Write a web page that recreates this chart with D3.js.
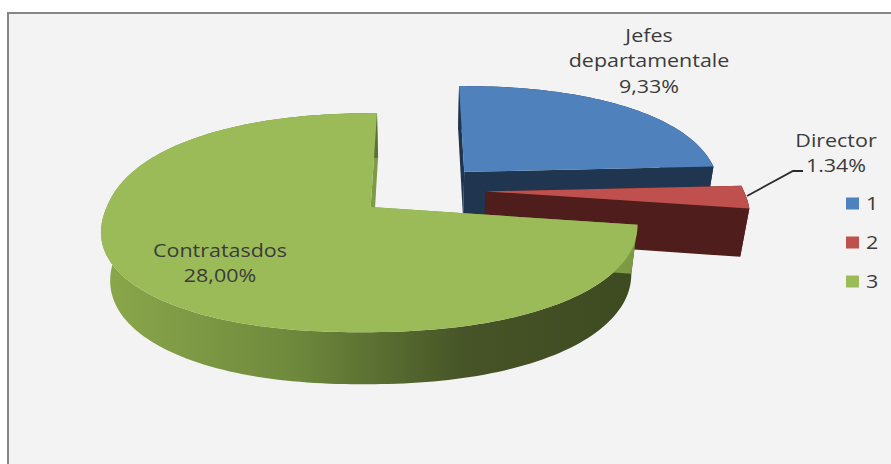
<!DOCTYPE html>
<html>
<head>
<meta charset="utf-8">
<script src="https://cdnjs.cloudflare.com/ajax/libs/d3/7.8.5/d3.min.js"></script>
<style>
html,body{margin:0;padding:0;background:#fff;}
svg{display:block;}
text{font-family:"Open Sans",sans-serif;fill:#3b3b3b;}
</style>
</head>
<body>
<svg id="chart" width="891" height="464"></svg>
<script>
// Staff distribution shown as an exploded 3D pie
const categories = ["1", "2", "3"];
const values = [9.33, 1.34, 28.00];
const labelLines = [["Jefes", "departamentale", "9,33%"], ["Director", "1.34%"], ["Contratasdos", "28,00%"]];
const topColors = ["#4f81bd", "#c0504d", "#9bbb59"];
const wallColors = ["#1f3550", "#4f1e1c", "#7d9a45"];

const width = 891, height = 464;
const svg = d3.select("#chart");

// Plot area with its grey frame on the top and left
svg.append("rect").attr("x", 8).attr("y", 13).attr("width", width).attr("height", height)
  .attr("fill", "#f3f3f3").attr("stroke", "#868686").attr("stroke-width", 2);

// Perspective projection of the pie plane
const view = {cx: 421, cy: 190, rx: 258, ry: 102.5, persp: 0.14, depth: 49, depthPersp: 0.028, explode: 0.25, round: 2.2};
const project = (x, y, z) => {
  const w = 1 - view.persp * y + view.depthPersp * z;
  return [view.cx + view.rx * x / w, view.cy + (view.ry * y + view.depth * z) / w];
};
// The outline is slightly fuller than a true ellipse
const outline = a => {
  const sx = Math.sin(a), cy = Math.cos(a);
  const f = Math.pow(Math.pow(Math.abs(sx), view.round) + Math.pow(Math.abs(cy), view.round), -1 / view.round);
  return [sx * f, -cy * f];
};

const pie = d3.pie().sort(null).value(d => d);
const slices = pie(values);
const line = d3.line();

const defs = svg.append("defs");
const rimGradient = defs.append("linearGradient").attr("id", "rim-3")
  .attr("gradientUnits", "userSpaceOnUse").attr("x1", 105).attr("x2", 635).attr("y1", 0).attr("y2", 0);
[[0, "#8aa74b"], [0.35, "#6f8a3c"], [0.68, "#465427"], [1, "#3e4a20"]].forEach(([o, c]) =>
  rimGradient.append("stop").attr("offset", o).attr("stop-color", c));

slices.forEach((s, i) => {
  const mid = (s.startAngle + s.endAngle) / 2;
  const ox = view.explode * Math.sin(mid), oy = -view.explode * Math.cos(mid);
  const steps = Math.max(6, Math.round((s.endAngle - s.startAngle) * 40));
  const angles = d3.range(steps + 1).map(k => s.startAngle + (s.endAngle - s.startAngle) * k / steps);
  const rimAt = z => angles.map(a => {
    const [ux, uy] = outline(a);
    return project(ox + ux, oy + uy, z);
  });
  const apexAt = z => project(ox, oy, z);
  const g = svg.append("g").attr("class", "slice-" + categories[i]);
  const radialWall = k => g.append("path")
    .attr("d", line([apexAt(0), rimAt(0)[k], rimAt(1)[k], apexAt(1)]) + "Z").attr("fill", wallColors[i]);

  // Walls first, so the top face lies over them
  radialWall(angles.length - 1);
  g.append("path")
    .attr("d", line([...rimAt(0), ...rimAt(1).reverse()]) + "Z")
    .attr("fill", i === 2 ? "url(#rim-3)" : wallColors[i]);
  radialWall(0);

  g.append("path")
    .attr("d", line([apexAt(0), ...rimAt(0)]) + "Z").attr("fill", topColors[i]);
});

// Text is set a little wider than the face's natural proportions
const textStretch = 1.16;

// Data labels
const labelAnchors = [
  {x: 649, y: 42, step: 25.5},
  {x: 836, y: 147, step: 25},
  {x: 220, y: 257, step: 25}
];
labelLines.forEach((rows, i) => {
  const t = svg.append("text").attr("text-anchor", "middle").attr("font-size", 18.5)
    .attr("transform", `translate(${labelAnchors[i].x},0) scale(${textStretch},1)`);
  rows.forEach((r, j) => t.append("tspan").attr("x", 0)
    .attr("y", labelAnchors[i].y + j * labelAnchors[i].step).text(r));
});

// Leader line for the small slice
svg.append("path").attr("d", line([[747, 196], [793, 171], [803, 171]]))
  .attr("fill", "none").attr("stroke", "#2b2b2b").attr("stroke-width", 1.8);

// Legend
const legendY = d3.scalePoint().domain(categories).range([203.5, 281.5]);
const legend = svg.append("g").selectAll("g").data(categories).join("g")
  .attr("transform", d => `translate(846,${legendY(d)})`);
legend.append("rect").attr("y", -6).attr("width", 13).attr("height", 12)
  .attr("fill", (d, i) => topColors[i]);
legend.append("text").attr("transform", `translate(20,6.5) scale(${textStretch},1)`)
  .attr("font-size", 18.5).text(d => d);
</script>
</body>
</html>
